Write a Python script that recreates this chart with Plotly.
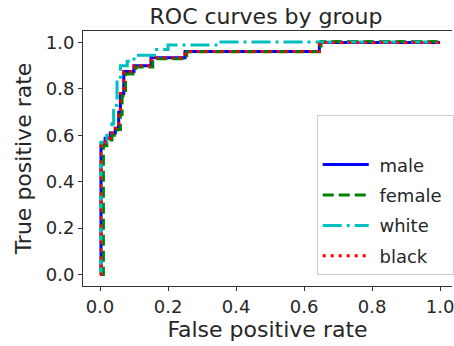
import plotly.graph_objects as go

# ROC data (false positive rate, true positive rate) per group
male_fpr = [0.0, 0.003, 0.003, 0.015, 0.015, 0.03, 0.03, 0.045, 0.045, 0.055, 0.055, 0.06, 0.06, 0.07, 0.07, 0.1, 0.1, 0.15, 0.15, 0.25, 0.25, 0.645, 0.645, 1.0]
male_tpr = [0.0, 0.0, 0.565, 0.565, 0.587, 0.587, 0.61, 0.61, 0.63, 0.63, 0.70, 0.70, 0.78, 0.78, 0.875, 0.875, 0.90, 0.90, 0.935, 0.935, 0.962, 0.962, 1.0, 1.0]

female_fpr = [0.0, 0.01, 0.01, 0.02, 0.02, 0.035, 0.035, 0.05, 0.05, 0.06, 0.06, 0.065, 0.065, 0.075, 0.075, 0.105, 0.105, 0.155, 0.155, 0.255, 0.255, 0.65, 0.65, 1.0]
female_tpr = [0.0, 0.0, 0.555, 0.555, 0.58, 0.58, 0.60, 0.60, 0.625, 0.625, 0.69, 0.69, 0.77, 0.77, 0.865, 0.865, 0.895, 0.895, 0.93, 0.93, 0.96, 0.96, 1.005, 1.005]

white_fpr = [0.0, 0.003, 0.003, 0.02, 0.02, 0.035, 0.035, 0.04, 0.04, 0.05, 0.05, 0.06, 0.06, 0.08, 0.08, 0.1, 0.1, 0.16, 0.16, 0.2, 0.2, 0.35, 0.35, 1.0]
white_tpr = [0.0, 0.0, 0.57, 0.57, 0.60, 0.60, 0.65, 0.65, 0.73, 0.73, 0.83, 0.83, 0.90, 0.90, 0.92, 0.92, 0.945, 0.945, 0.97, 0.97, 0.99, 0.99, 1.003, 1.003]

black_fpr = male_fpr
black_tpr = male_tpr

group_names = ["male", "female", "white", "black"]
x_ticks = [0.0, 0.2, 0.4, 0.6, 0.8, 1.0]
y_ticks = [0.0, 0.2, 0.4, 0.6, 0.8, 1.0]

FONT = "DejaVu Sans"
TXT = "#262626"

fig = go.Figure()
# blank legend row at the top of the legend box
fig.add_trace(go.Scatter(x=[None], y=[None], mode="lines", name=" ",
                         line=dict(color="rgba(0,0,0,0)", width=3), legendgroup="g0",
                         hoverinfo="skip"))
series = [
    (male_fpr, male_tpr, "#0000ff", "solid"),
    (female_fpr, female_tpr, "#008000", "11px,5px"),
    (white_fpr, white_tpr, "#00bfbf", "19px,5px,3px,5px"),
    (black_fpr, black_tpr, "#ff0000", "3px,5px"),
]
for i, ((xs, ys, col, dash), name) in enumerate(zip(series, group_names)):
    fig.add_trace(go.Scatter(x=xs, y=ys, mode="lines", name="\u00a0" + name + "\u00a0",
                             line=dict(color=col, width=3, dash=dash),
                             legendgroup=f"g{i+1}"))

fig.update_layout(
    width=454, height=346,
    margin=dict(l=83, r=0, t=31, b=60),
    paper_bgcolor="white", plot_bgcolor="white",
    font=dict(family=FONT, color=TXT, size=18),
    title=dict(text="ROC curves by group", x=266/454, xref="container", xanchor="center",
               y=1 - 16/346, yref="container", yanchor="middle",
               font=dict(size=22, family=FONT, color=TXT)),
    legend=dict(x=(318-83)/371, y=(286-115)/255, xanchor="left", yanchor="top",
                bgcolor="white", bordercolor="#cccccc", borderwidth=1,
                font=dict(size=18, family=FONT, color=TXT),
                tracegroupgap=4, itemwidth=46),
    showlegend=True,
)
fig.update_xaxes(range=[-0.05, 1.035], tickvals=x_ticks, ticktext=[f"{v:.1f}" for v in x_ticks],
                 showgrid=False, zeroline=False, showline=True, linecolor="#333333", linewidth=1,
                 mirror=True, ticks="outside", ticklen=4, tickcolor="#333333",
                 ticklabeloverflow="allow",
                 tickfont=dict(size=18), title=dict(text="False positive rate", font=dict(size=22), standoff=6))
fig.update_yaxes(range=[-0.05, 1.05], tickvals=y_ticks, ticktext=[f"{v:.1f}" for v in y_ticks],
                 showgrid=False, zeroline=False, showline=True, linecolor="#333333", linewidth=1,
                 mirror=False, ticks="outside", ticklen=4, tickcolor="#333333",
                 tickfont=dict(size=18), title=dict(text="True positive rate", font=dict(size=22), standoff=8))

fig.write_html("out.html")
